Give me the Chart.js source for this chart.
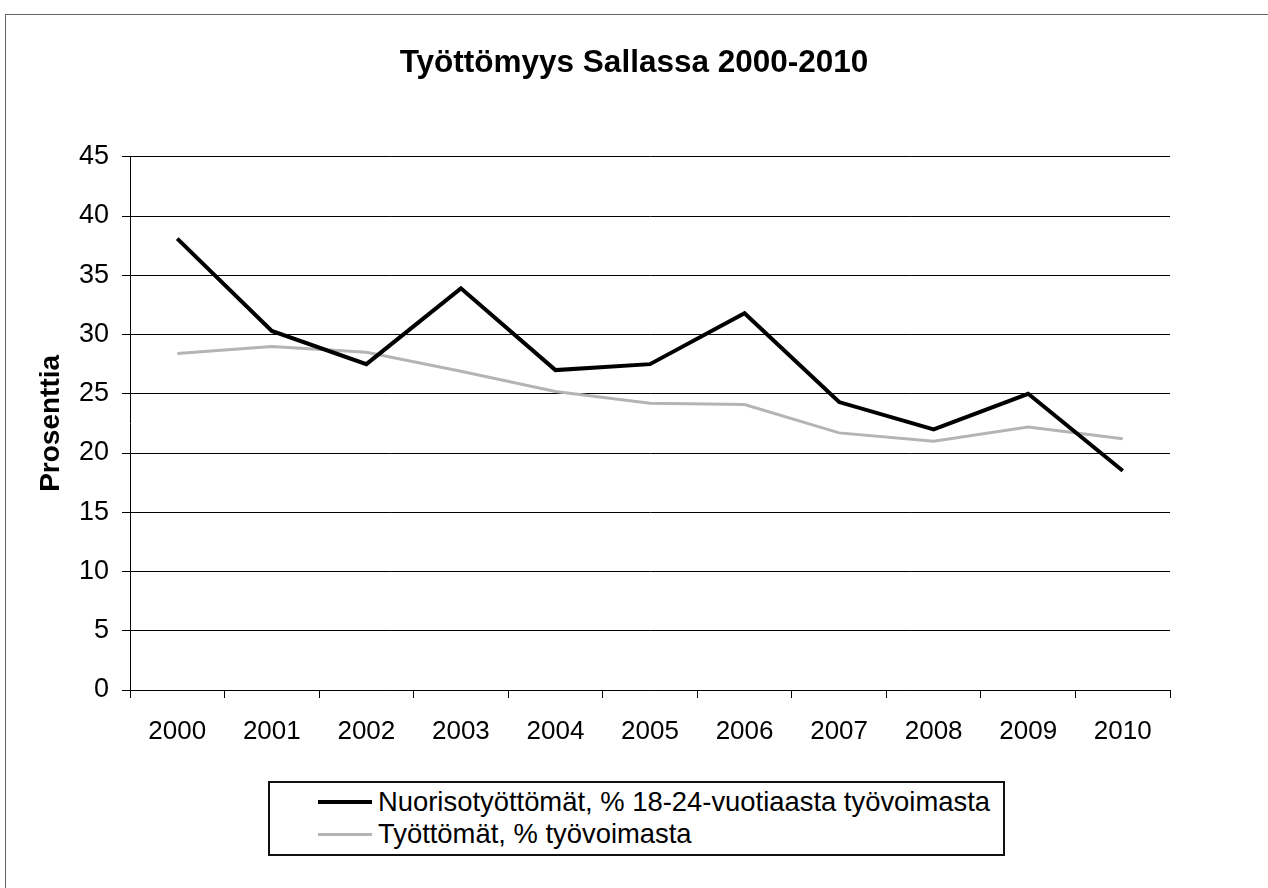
<!DOCTYPE html>
<html>
<head>
<meta charset="utf-8">
<script src="https://cdn.jsdelivr.net/npm/chart.js@4.4.1/dist/chart.umd.min.js"></script>
<style>
  html, body { margin: 0; padding: 0; background: #fff; }
  #wrap { position: relative; width: 1268px; height: 888px; }
  #legend {
    position: absolute; left: 268px; top: 781px; width: 737px; height: 75px;
    box-sizing: border-box; border: 2px solid #111; background: #fff;
    font-family: Arial, "Liberation Sans", sans-serif; font-size: 27.4px; color: #000;
  }
  .row { position: absolute; left: 48px; height: 32px; display: flex; align-items: center; white-space: nowrap; }
  .swatch { width: 54px; margin-right: 6px; flex: none; }
</style>
</head>
<body>
<div id="wrap">
  <canvas id="chart" width="1268" height="888"></canvas>
  <div id="legend"></div>
</div>
<script>
const years = ['2000', '2001', '2002', '2003', '2004', '2005', '2006', '2007', '2008', '2009', '2010']
const youthUnemployment = [38.1, 30.3, 27.5, 33.9, 27.0, 27.5, 31.8, 24.3, 22.0, 25.0, 18.5]
const totalUnemployment = [28.4, 29.0, 28.5, 26.9, 25.2, 24.2, 24.1, 21.7, 21.0, 22.2, 21.2]
const seriesLabels = ['Nuorisotyöttömät, % 18-24-vuotiaasta työvoimasta', 'Työttömät, % työvoimasta']

const font = 'Arial, "Liberation Sans", sans-serif'

const frame = {
  id: 'frame',
  beforeDraw(chart) {
    const ctx = chart.ctx
    ctx.save()
    ctx.fillStyle = '#fff'
    ctx.fillRect(0, 0, chart.width, chart.height)
    ctx.strokeStyle = '#666'
    ctx.lineWidth = 1
    ctx.strokeRect(5.5, 14.5, 1400, 1000)
    ctx.restore()
  },
}

const chart = new Chart(document.getElementById('chart'), {
  type: 'line',
  data: {
    labels: years,
    datasets: [
      {
        label: seriesLabels[0],
        data: youthUnemployment,
        borderColor: '#000',
        borderWidth: 4,
        pointRadius: 0,
        tension: 0,
      },
      {
        label: seriesLabels[1],
        data: totalUnemployment,
        borderColor: '#b4b4b4',
        borderWidth: 3,
        pointRadius: 0,
        tension: 0,
      },
    ],
  },
  options: {
    responsive: false,
    animation: false,
    layout: { padding: 0 },
    scales: {
      x: {
        offset: true,
        afterFit: (scale) => { scale.height = 198 },
        grid: { display: true, drawOnChartArea: false, offset: true, color: '#000', tickLength: 8 },
        border: { color: '#000', width: 1 },
        ticks: { color: '#000', padding: 18, font: { family: font, size: 26 }, maxRotation: 0 },
      },
      y: {
        min: 0,
        max: 45,
        afterFit: (scale) => { scale.width = 130 },
        ticks: { stepSize: 5, color: '#000', padding: 13, font: { family: font, size: 27 } },
        grid: { color: '#000', lineWidth: 1, tickLength: 8 },
        border: { color: '#000', width: 1 },
        title: {
          display: true,
          text: 'Prosenttia',
          color: '#000',
          font: { family: font, size: 28, weight: 'bold' },
          padding: { top: 34, bottom: 0 },
        },
      },
      // empty right margin so the title centres on the whole page
      spacer: {
        position: 'right',
        afterFit: (scale) => { scale.width = 98 },
        grid: { display: false },
        border: { display: false },
        ticks: { display: false },
      },
    },
    plugins: {
      legend: { display: false },
      tooltip: { enabled: false },
      title: {
        display: true,
        text: 'Työttömyys Sallassa 2000-2010',
        color: '#000',
        font: { family: font, size: 31.5, weight: 'bold' },
        padding: { top: 44, bottom: 75 },
      },
    },
  },
  plugins: [frame],
})

// legend box built from the datasets
const legend = document.getElementById('legend')
chart.data.datasets.forEach((ds, i) => {
  const row = document.createElement('div')
  row.className = 'row'
  row.style.top = (3 + i * 32) + 'px'
  const sw = document.createElement('div')
  sw.className = 'swatch'
  sw.style.borderTop = ds.borderWidth + 'px solid ' + ds.borderColor
  const txt = document.createElement('span')
  txt.textContent = ds.label
  row.appendChild(sw)
  row.appendChild(txt)
  legend.appendChild(row)
})
</script>
</body>
</html>
